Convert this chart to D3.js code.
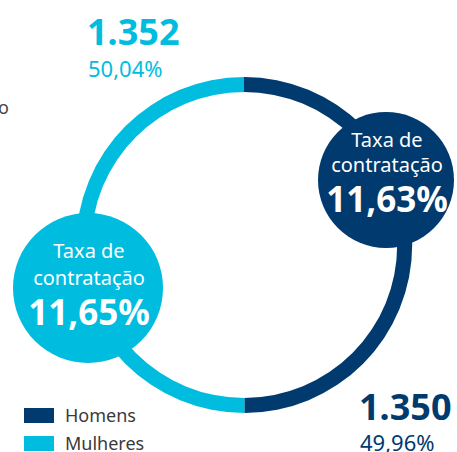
<!DOCTYPE html>
<html>
<head>
<meta charset="utf-8">
<script src="https://cdn.jsdelivr.net/npm/d3@7"></script>
<style>
  body { margin: 0; background: #fff; }
  svg { display: block; font-family: "Noto Sans", sans-serif; }
</style>
</head>
<body>
<div id="chart"></div>
<script>
// dados
var categories = ["Homens", "Mulheres"];
var counts = [1350, 1352];
var countLabels = ["1.350", "1.352"];
var shareLabels = ["49,96%", "50,04%"];
var rateLabels = ["11,63%", "11,65%"];
var colors = ["#003a6e", "#00bde0"];

var width = 457, height = 452;
var cx = 244, cy = 245;
var rOuter = 168, rInner = 153;

var svg = d3.select("#chart").append("svg")
  .attr("width", width)
  .attr("height", height);

// texto cortado na margem esquerda
svg.append("text")
  .attr("x", 9).attr("y", 114)
  .attr("text-anchor", "end")
  .style("font-size", "18px")
  .style("fill", "#444")
  .text("o");

var pie = d3.pie().sort(null).value(function(d) { return d; });
var arc = d3.arc().innerRadius(rInner).outerRadius(rOuter);
var arcs = pie(counts);

var ring = svg.append("g").attr("transform", "translate(" + cx + "," + cy + ")");
ring.selectAll("path")
  .data(arcs)
  .enter().append("path")
  .attr("d", arc)
  .attr("fill", function(d, i) { return colors[i]; });

// bolhas com a taxa de contratação
var bubbles = [
  { i: 0, x: 386, y: 180, r: 68, l1: 147, l2: 172, l3: 212 },
  { i: 1, x: 88, y: 288, r: 75, l1: 258, l2: 285, l3: 325 }
];
bubbles.forEach(function(b) {
  svg.append("circle")
    .attr("cx", b.x).attr("cy", b.y).attr("r", b.r)
    .attr("fill", colors[b.i]);
  var g = svg.append("g")
    .attr("text-anchor", "middle")
    .style("fill", "#fff");
  g.append("text").attr("x", b.x + 1).attr("y", b.l1)
    .style("font-size", "20px").text("Taxa de");
  g.append("text").attr("x", b.x + 1).attr("y", b.l2)
    .style("font-size", "20px").text("contratação");
  g.append("text").attr("x", b.x + 1).attr("y", b.l3)
    .style("font-size", "35px").style("font-weight", "bold").text(rateLabels[b.i]);
});

// totais
var totals = [
  { i: 1, x: 87, y1: 45, y2: 77 },
  { i: 0, x: 359, y1: 420, y2: 451 }
];
totals.forEach(function(t) {
  svg.append("text")
    .attr("x", t.x).attr("y", t.y1)
    .style("font-size", "36px").style("font-weight", "bold")
    .style("fill", colors[t.i])
    .text(countLabels[t.i]);
  svg.append("text")
    .attr("x", t.x + 1).attr("y", t.y2)
    .style("font-size", "22px")
    .style("fill", colors[t.i])
    .text(shareLabels[t.i]);
});

// legenda
var legend = svg.append("g").attr("transform", "translate(24,408)");
var item = legend.selectAll("g")
  .data(categories)
  .enter().append("g")
  .attr("transform", function(d, i) { return "translate(0," + (i * 28) + ")"; });
item.append("rect")
  .attr("width", 30).attr("height", 15)
  .attr("fill", function(d, i) { return colors[i]; });
item.append("text")
  .attr("x", 41).attr("y", 14)
  .style("font-size", "18px")
  .style("fill", "#3a3a3a")
  .text(function(d) { return d; });
</script>
</body>
</html>
